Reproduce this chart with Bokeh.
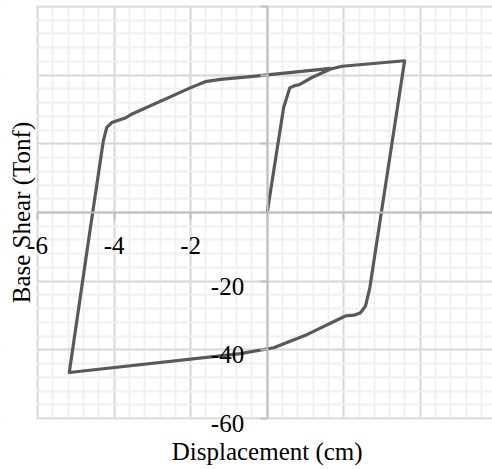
import math
from bokeh.plotting import figure
from bokeh.models import (LinearAxis, SingleIntervalTicker, Range1d, Label, BoxAnnotation)
from bokeh.embed import file_html
from bokeh.resources import INLINE

# Pushover hysteresis path (displacement cm, base shear Tonf)
disp = [0.0, 0.43, 0.59, 0.70, 0.83, 1.18, 1.66, 1.96, 3.59, 2.68, 2.57, 2.44, 2.27,
        2.05, 1.92, 1.05, 0.17, -0.70, -5.17, -4.63, -4.28, -4.19, -4.06, -3.71,
        -3.53, -2.01, -1.62, -1.22, -0.44, 1.66]
shear = [0.0, 30.6, 36.3, 36.9, 37.2, 39.4, 41.8, 42.6, 44.2, -22.0, -27.2, -29.2, -29.9,
         -30.1, -30.8, -35.5, -39.4, -41.1, -46.6, -5.3, 20.9, 24.8, 26.2, 27.5,
         28.7, 36.3, 38.1, 38.8, 39.6, 42.0]

xtick_vals = [-6, -4, -2]
xtick_text = ["-6", "-4", "-2"]
ytick_vals = [-20, -40, -60]
ytick_text = ["-20", "-40", "-60"]
x_title = "Displacement (cm)"
y_title = "Base Shear (Tonf)"

# plot-area limits of the chart
XMIN, XMAX, YMIN, YMAX = -6, 6, -60, 60

FONT = "'Liberation Serif', 'Times New Roman', serif"
FSIZE = "25px"

# the frame spans the whole canvas; the plot area (-6..6, -60..60) sits inside it
p = figure(width=492, height=469, output_backend="svg", toolbar_location=None,
           x_range=Range1d(-6.967, 5.886), y_range=Range1d(-74.85, 61.75),
           min_border=0, x_axis_location=None, y_axis_location=None)
p.background_fill_color = "white"
p.border_fill_color = "white"
p.outline_line_color = None

p.xgrid[0].ticker = SingleIntervalTicker(interval=2, num_minor_ticks=5)
p.ygrid[0].ticker = SingleIntervalTicker(interval=20, num_minor_ticks=5)
for g in (p.xgrid[0], p.ygrid[0]):
    g.grid_line_color = "#d9d9d9"
    g.grid_line_width = 2
    g.minor_grid_line_color = "#f0f0f0"
    g.minor_grid_line_width = 2

# white margins outside the plot area
for kw in (dict(right=XMIN - 0.03), dict(top=YMIN - 0.3), dict(bottom=YMAX + 0.3)):
    p.add_layout(BoxAnnotation(fill_color="white", fill_alpha=1, line_color=None,
                               level="glyph", **kw))

p.line(disp, shear, line_color="#595959", line_width=3.2, line_join="round")


def cross_axis(ticker, bounds):
    ax = LinearAxis(ticker=ticker, fixed_location=0, bounds=bounds)
    ax.axis_line_color = "#bfbfbf"
    ax.axis_line_width = 2
    ax.major_tick_line_color = "#bfbfbf"
    ax.major_tick_line_width = 2
    ax.major_tick_out = 7
    ax.major_tick_in = 0
    ax.minor_tick_line_color = None
    ax.minor_tick_out = 0
    ax.minor_tick_in = 0
    ax.major_label_text_font_size = "0px"
    ax.major_label_text_color = None
    ax.major_label_standoff = 0
    return ax


# axis lines crossing at zero, with outward ticks
p.add_layout(cross_axis(SingleIntervalTicker(interval=2), (XMIN, XMAX)), "below")
p.add_layout(cross_axis(SingleIntervalTicker(interval=20), (YMIN, YMAX)), "left")

# tick labels (negative side only, as in the original)
for v, t in zip(xtick_vals, xtick_text):
    p.add_layout(Label(x=v, y=0, text=t, text_align="center", text_baseline="alphabetic",
                       y_offset=-33, text_font=FONT, text_font_size=FSIZE,
                       text_color="#000000"))
for v, t in zip(ytick_vals, ytick_text):
    p.add_layout(Label(x=0, y=v, text=t, text_align="right", text_baseline="alphabetic",
                       x_offset=-23, y_offset=-5, text_font=FONT, text_font_size=FSIZE,
                       text_color="#000000"))

# axis titles
p.add_layout(Label(x=(XMIN + XMAX) / 2, y=YMIN, text=x_title, text_align="center",
                   text_baseline="alphabetic", y_offset=-33, text_font=FONT,
                   text_font_size=FSIZE, text_color="#000000"))
p.add_layout(Label(x=XMIN, y=(YMIN + YMAX) / 2, text=y_title, text_align="center",
                   text_baseline="middle", angle=math.pi / 2, x_offset=-16,
                   text_font=FONT, text_font_size=FSIZE, text_color="#000000"))

open("out.html", "w").write(file_html(p, INLINE))
